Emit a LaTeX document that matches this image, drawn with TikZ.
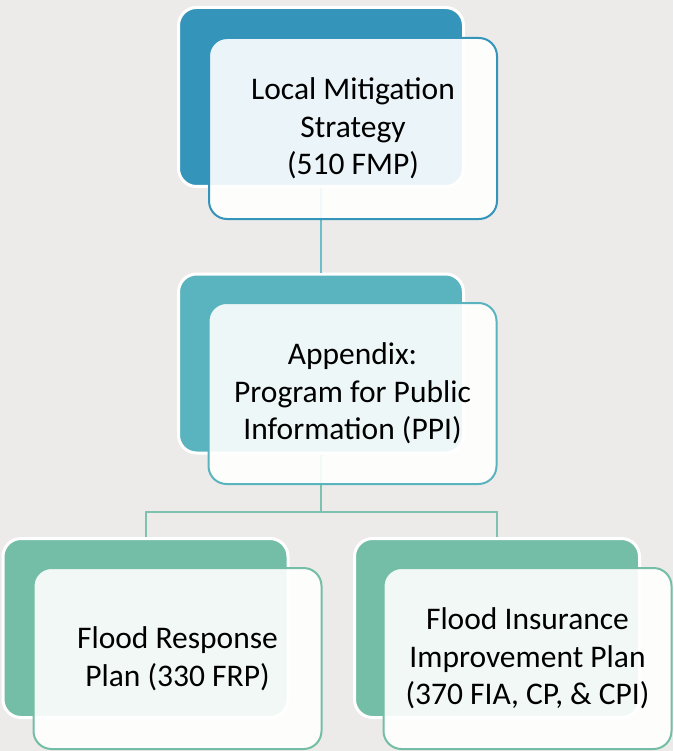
\documentclass[tikz,border=0pt]{standalone}
\usepackage{fontspec}
\setmainfont{Carlito}
\usepackage{tikz}
\usetikzlibrary{positioning}
\definecolor{bgGray}{HTML}{EDEBE9}
\definecolor{lmsBlue}{HTML}{3594BA}
\definecolor{ppiTeal}{HTML}{5AB4C0}
\definecolor{planGreen}{HTML}{74BDA6}
\definecolor{linkTeal}{HTML}{6DBDCA}
\definecolor{linkGreen}{HTML}{7CC2AE}

\begin{document}
\begin{tikzpicture}[x=1pt, y=-1pt,
  backbox/.style={rectangle, rounded corners=18pt, draw=white, line width=3pt,
    fill=#1, minimum width=285pt, minimum height=179pt},
  frontbox/.style={rectangle, rounded corners=18pt, draw=#1, line width=2pt,
    fill=white, fill opacity=0.9, text opacity=1, minimum width=288pt,
    minimum height=181pt, align=center, font=\fontsize{31.5}{37.5}\selectfont},
  link/.style={draw=#1, line width=2pt}]
\fill[bgGray] (0,0) rectangle (673,751);

\node[backbox=lmsBlue] (lms) at (321,97) {};
\node[backbox=ppiTeal] (ppi) at (321,363.5) {};
\node[backbox=planGreen] (frp) at (145.5,628) {};
\node[backbox=planGreen] (fip) at (497,628) {};

\draw[link=linkTeal] (lms.south) -- (ppi.north);
\draw[link=linkGreen] (ppi.south) -- ++(0,57) coordinate (fork) -| (frp.north);
\draw[link=linkGreen] (fork) -| (fip.north);

\node[frontbox=lmsBlue] (lmsText) at ([shift={(32,31.5)}]lms)
  {Local Mitigation\\Strategy\\(510 FMP)};
\node[frontbox=ppiTeal] (ppiText) at ([shift={(31.5,30)}]ppi)
  {Appendix:\\Program for Public\\Information (PPI)};
\node[frontbox=planGreen] (frpText) at ([shift={(32,30.5)}]frp)
  {Flood Response\\Plan (330 FRP)};
\node[frontbox=planGreen] (fipText) at ([shift={(30.5,30.5)}]fip)
  {Flood Insurance\\Improvement Plan\\(370 FIA, CP, \& CPI)};
\end{tikzpicture}
\end{document}
